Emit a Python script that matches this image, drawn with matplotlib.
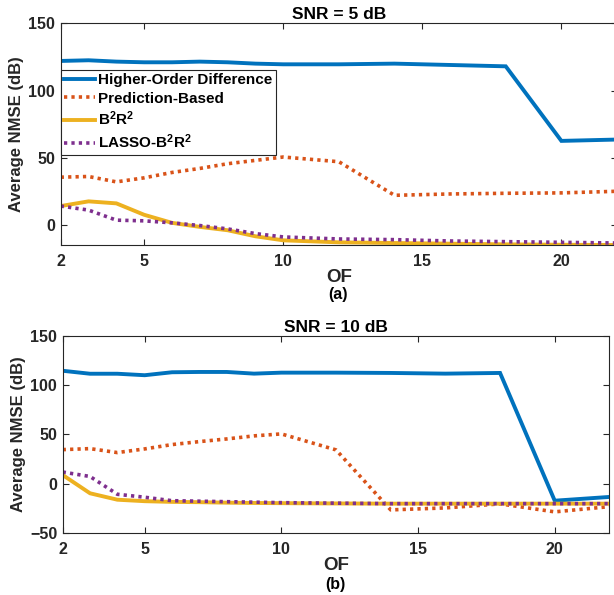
import numpy as np
import matplotlib
matplotlib.use('Agg')
import matplotlib.pyplot as plt

plt.rcParams['font.family'] = ['Liberation Sans', 'DejaVu Sans']
plt.rcParams['font.weight'] = 'bold'
plt.rcParams['mathtext.fontset'] = 'custom'
plt.rcParams['mathtext.bf'] = 'Liberation Sans:bold'
plt.rcParams['mathtext.rm'] = 'Liberation Sans:bold'
plt.rcParams['mathtext.default'] = 'bf'

# Oversampling factor values
of = [2, 3, 4, 5, 6, 7, 8, 9, 10, 12, 14, 16, 18, 20, 22]

# SNR = 5 dB
hod_5 = [122, 122.5, 121.5, 121, 121, 121.5, 121, 120, 119.5, 119.5, 120, 119, 118, 62.5, 63.5]
pred_5 = [35.5, 36, 32, 35, 39, 42, 45.5, 48, 50.5, 47, 22, 23, 23.5, 23.8, 25]
b2r2_5 = [14, 17.5, 16, 7.5, 1.5, -1.5, -4, -8.5, -11.5, -13, -13.5, -14, -14.5, -14.8, -15]
lasso_5 = [14, 11, 3.5, 3, 1.5, -0.5, -3, -6.5, -9, -10.5, -11, -12, -12.5, -13, -13.5]

# SNR = 10 dB
hod_10 = [114.5, 111.5, 111.5, 110, 113, 113.3, 113.3, 111.6, 112.6, 112.6, 112.3, 111.6, 112.3, -17, -13.2]
pred_10 = [34.7, 35.7, 31.7, 35.4, 39.8, 42.8, 45.5, 48.6, 50.6, 34.4, -26.3, -24.3, -20.2, -28.3, -23]
b2r2_10 = [9, -9.5, -16, -17.5, -18.2, -18.5, -19, -19.3, -19.5, -19.8, -20, -20, -20, -20, -20]
lasso_10 = [12, 7.5, -10.5, -13.5, -17, -17.5, -18, -18.5, -19, -19.5, -20, -20, -20, -20, -20]

labels = ['Higher-Order Difference', 'Prediction-Based', 'B$^2$R$^2$', 'LASSO-B$^2$R$^2$']
colors = ['#0072BD', '#D95319', '#EDB120', '#7E2F8E']

fig = plt.figure(figsize=(6.14, 5.95), dpi=100)
ax1 = fig.add_axes([0.0989, 0.5882, 0.906, 0.3726])
ax2 = fig.add_axes([0.1021, 0.1037, 0.8904, 0.3321])


def draw(ax, series, ylim, yticks, title):
    for i, (vals, lab, c) in enumerate(zip(series, labels, colors)):
        if i in (0, 2):
            ax.plot(of, vals, color=c, lw=2.8, label=lab, solid_joinstyle='miter')
        else:
            ax.plot(of, vals, color=c, lw=2.6, label=lab,
                    linestyle=(0, (0.9, 1.15)), dash_capstyle='butt')
    ax.set_xlim(2, 22)
    ax.set_ylim(*ylim)
    ax.set_xticks([2, 5, 10, 15, 20])
    ax.set_yticks(yticks)
    ax.tick_params(direction='in', top=True, right=True, length=4,
                   width=0.8, color='0.15', labelsize=11.5, labelcolor='0.15', pad=6.5)
    ax.tick_params(axis='y', pad=4)
    for s in ax.spines.values():
        s.set_color('0.15')
        s.set_linewidth(0.8)
    ax.set_title(title, fontsize=12.5, fontweight='bold', pad=3)
    ax.set_xlabel('OF', fontsize=13.5, fontweight='bold', labelpad=0, color='0.15')
    ax.set_ylabel('Average NMSE (dB)', fontsize=12, fontweight='bold', labelpad=3, color='0.15')


draw(ax1, [hod_5, pred_5, b2r2_5, lasso_5], (-15, 150), [0, 50, 100, 150], 'SNR = 5 dB')
draw(ax2, [hod_10, pred_10, b2r2_10, lasso_10], (-50, 150), [-50, 0, 50, 100, 150], 'SNR = 10 dB')

leg = ax1.legend(loc='upper left', bbox_to_anchor=(0, 0.79), borderaxespad=0,
                 fontsize=11, handlelength=2.0, handletextpad=0.25,
                 labelspacing=0.28, borderpad=0.22, fancybox=False,
                 edgecolor='0.15', framealpha=1)
leg.get_frame().set_linewidth(0.8)
for t in leg.get_texts():
    t.set_fontweight('bold')

fig.text(0.551, 1 - 295 / 595, '(a)', ha='center', va='center', fontsize=11.5)
fig.text(0.547, 1 - 584 / 595, '(b)', ha='center', va='center', fontsize=11.5)

fig.savefig('out.png', dpi=100)
